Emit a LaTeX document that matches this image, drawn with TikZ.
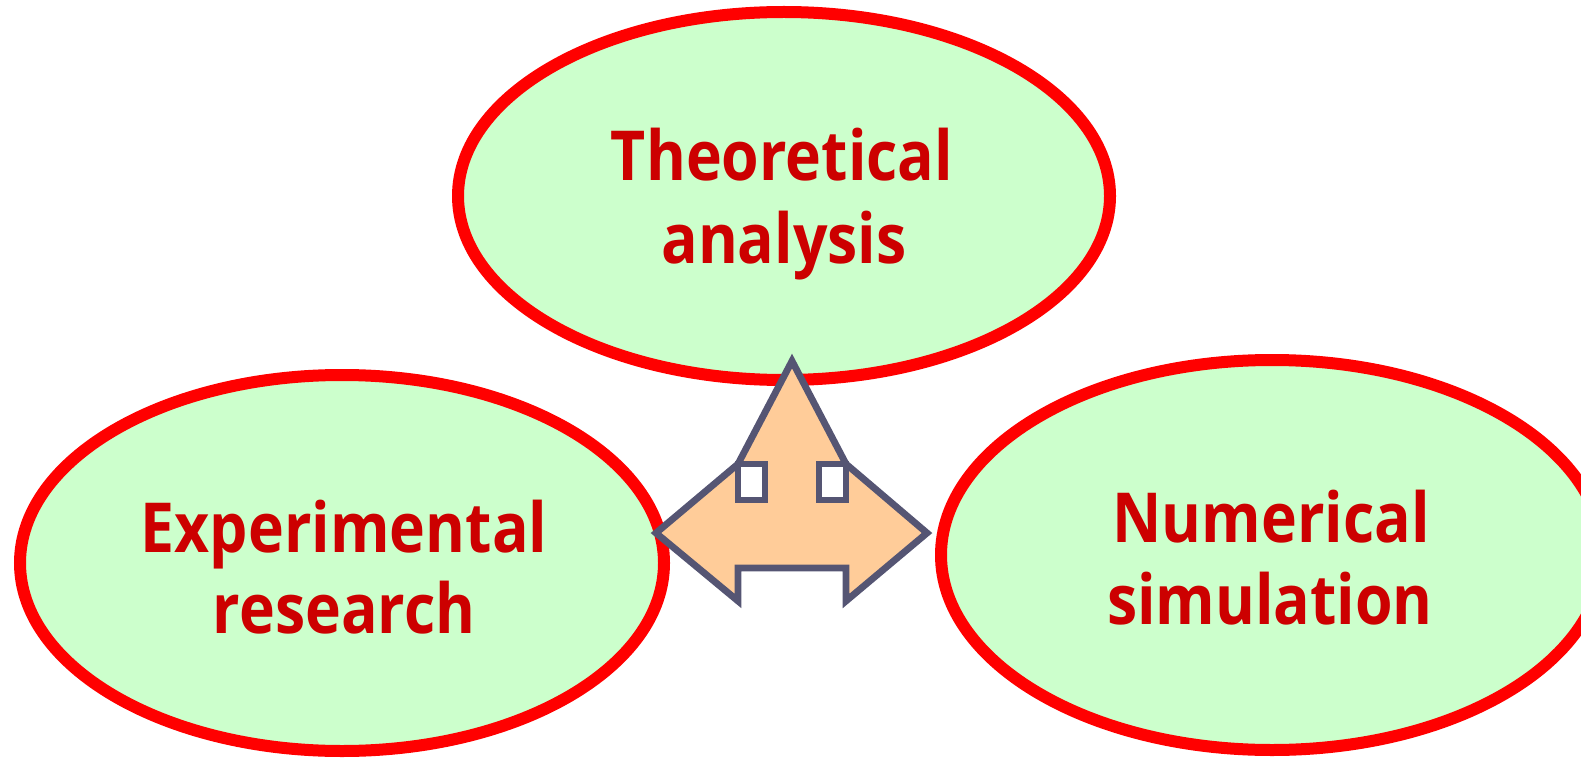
\documentclass[tikz,border=0pt]{standalone}
\usepackage{fontspec}
\newfontfamily\lblfont[FakeStretch=0.88]{Open Sans}
\usetikzlibrary{shapes.geometric}
\definecolor{ovalfill}{HTML}{CCFFCC}
\definecolor{ovalline}{HTML}{FF0000}
\definecolor{txtred}{HTML}{CC0000}
\definecolor{arrfill}{HTML}{FFCC99}
\definecolor{arrline}{HTML}{555573}
\tikzset{
  oval/.style={ellipse, draw=ovalline, fill=ovalfill, line width=12pt, inner sep=0pt},
  lbl/.style={anchor=base, inner sep=0pt, text=txtred, font=\lblfont\bfseries\fontsize{69}{82}\selectfont},
  arrowshape/.style={draw=arrline, fill=arrfill, line width=6.8pt, line join=miter},
  notch/.style={draw=arrline, fill=white, line width=6.8pt}
}
\begin{document}
\begin{tikzpicture}[x=1pt,y=-1pt]
\useasboundingbox (0,0) rectangle (1581,759);
\node[oval, minimum width=652pt, minimum height=368pt] (theo) at (784,196) {};
\node[oval, minimum width=644pt, minimum height=376pt] (expe) at (342,563) {};
\node[oval, minimum width=662pt, minimum height=390pt] (nume) at (1272,555) {};
\node[lbl] (t1) at (782,181) {Theoretical};
\node[lbl] (t2) at (784,263) {analysis};
\node[lbl] (e1) at (344,552) {Experimental};
\node[lbl] (e2) at (344,633) {research};
\node[lbl] (n1) at (1271,542) {Numerical};
\node[lbl] (n2) at (1270,624) {simulation};
\path[arrowshape] (792,361) -- (846,464) -- (927,533) -- (846,601) -- (846,568)
  -- (738,568) -- (738,601) -- (656,533) -- (738,464) -- cycle;
\path[notch] (738,464) rectangle (765,500);
\path[notch] (819,464) rectangle (846,500);
\end{tikzpicture}
\end{document}
